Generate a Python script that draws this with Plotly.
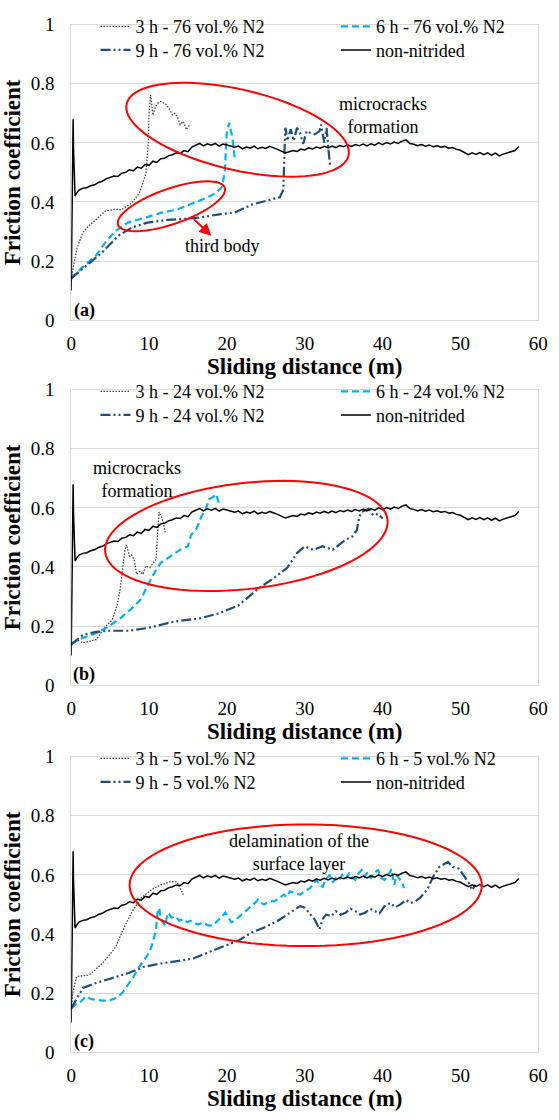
import numpy as np
import plotly.graph_objects as go

W, H = 559, 1120

# ---------------- data ----------------
# non-nitrided reference test (same curve shown in every panel)
nn_x = [0, 0.1, 0.2, 0.25, 0.3, 0.4, 0.5, 0.7,
        1.0, 1.5, 2.0, 2.5, 3.0, 3.5, 4.0, 4.5, 5.0, 5.5, 6.0, 6.5, 7.0, 7.5, 8.0, 8.5, 9.0, 9.5,
        10.0, 10.5, 11.0, 11.5, 12.0, 12.5, 13.0, 13.5, 14.0, 14.5, 15.0, 15.5, 16.0, 16.5, 17.0, 17.5,
        18.0, 18.5, 19.0, 19.5, 20.0, 20.5, 21.0, 21.5, 22.0, 22.5, 23.0, 23.5, 24.0, 24.5, 25.0, 25.5,
        26.0, 26.5, 27.0, 27.5, 28.0, 28.5, 29.0, 29.5, 30.0, 30.5, 31.0, 31.5, 32.0, 32.5, 33.0, 33.5,
        34.0, 34.5, 35.0, 35.5, 36.0, 36.5, 37.0, 37.5, 38.0, 38.5, 39.0, 39.5, 40.0, 40.5, 41.0, 41.5,
        42.0, 42.5, 43.0, 43.5, 44.0, 44.5, 45.0, 45.5, 46.0, 46.5, 47.0, 47.5, 48.0, 48.5, 49.0, 49.5,
        50.0, 50.5, 51.0, 51.5, 52.0, 52.5, 53.0, 53.5, 54.0, 54.5, 55.0, 55.5, 56.0, 56.5, 57.0, 57.5]
nn_y = [0.10, 0.30, 0.60, 0.68, 0.58, 0.46, 0.42, 0.43,
        0.440, 0.446, 0.448, 0.455, 0.458, 0.466, 0.470, 0.478, 0.482, 0.488, 0.486, 0.497, 0.500, 0.509,
        0.506, 0.518, 0.514, 0.527, 0.524, 0.538, 0.534, 0.546, 0.548, 0.556, 0.560, 0.566, 0.564, 0.574,
        0.570, 0.586, 0.592, 0.598, 0.590, 0.597, 0.592, 0.598, 0.589, 0.596, 0.593, 0.588, 0.585, 0.589,
        0.580, 0.586, 0.582, 0.589, 0.580, 0.585, 0.581, 0.588, 0.584, 0.578, 0.572, 0.566, 0.570, 0.574,
        0.571, 0.579, 0.576, 0.583, 0.579, 0.586, 0.582, 0.588, 0.583, 0.589, 0.584, 0.591, 0.587, 0.593,
        0.588, 0.594, 0.590, 0.596, 0.590, 0.597, 0.592, 0.600, 0.594, 0.601, 0.596, 0.603, 0.598, 0.606,
        0.610, 0.598, 0.595, 0.590, 0.594, 0.589, 0.593, 0.587, 0.590, 0.585, 0.588, 0.582, 0.584, 0.578,
        0.575, 0.566, 0.560, 0.566, 0.561, 0.567, 0.560, 0.566, 0.558, 0.565, 0.556, 0.562, 0.566, 0.570,
        0.574, 0.588]

# (a) 76 vol.% N2
a3_x = [0, 0.25, 0.7, 1.5, 2.3, 3.2, 4.4, 5.5, 6.5, 7.75, 8.75, 9.6, 9.9, 10.0, 10.2, 10.5, 10.8,
        11.1, 11.5, 11.7, 12.2, 12.6, 13.0, 13.3, 13.6, 14.0, 14.4, 14.8, 15.25]
a3_y = [0.13, 0.176, 0.24, 0.297, 0.32, 0.342, 0.369, 0.375, 0.374, 0.396, 0.43, 0.496, 0.596, 0.70,
        0.762, 0.694, 0.72, 0.734, 0.74, 0.737, 0.73, 0.715, 0.695, 0.70, 0.69, 0.662, 0.672, 0.645, 0.662]
a6_x = [0, 0.25, 1.5, 3.2, 4.4, 5.7, 7.3, 9.4, 11.5, 13.6, 15.7, 17.3, 18.6, 19.4, 19.75, 19.96,
        20.3, 20.7, 21.0]
a6_y = [0.14, 0.147, 0.18, 0.219, 0.263, 0.302, 0.33, 0.346, 0.363, 0.374, 0.396, 0.413, 0.43, 0.452,
        0.507, 0.629, 0.668, 0.618, 0.551]
a9_x = [0, 0.25, 2.3, 4.0, 6.1, 7.75, 9.8, 12.3, 14.8, 16.5, 19.0, 21.1, 23.2, 25.25, 26.8, 27.25,
        27.3, 27.5, 27.6, 27.75, 28.2, 28.6, 29.0, 29.4, 29.8, 30.25, 30.7, 31.3, 31.9, 32.1, 32.5,
        32.8, 33.1, 33.25]
a9_y = [0.14, 0.147, 0.192, 0.23, 0.286, 0.313, 0.33, 0.339, 0.343, 0.347, 0.358, 0.365, 0.391, 0.405,
        0.416, 0.441, 0.485, 0.651, 0.64, 0.607, 0.646, 0.607, 0.651, 0.634, 0.596, 0.64, 0.634, 0.629,
        0.64, 0.662, 0.601, 0.651, 0.562, 0.524]

# (b) 24 vol.% N2
b3_x = [0, 0.7, 1.5, 3.2, 4.4, 5.25, 5.9, 6.3, 6.6, 6.9, 7.1, 7.5, 7.75, 8.1, 8.4, 8.8, 9.2, 9.6,
        10.1, 10.5, 10.9, 11.1, 11.3, 11.6, 11.8, 12.1]
b3_y = [0.137, 0.154, 0.143, 0.154, 0.198, 0.22, 0.27, 0.326, 0.392, 0.458, 0.475, 0.436, 0.44, 0.425,
        0.375, 0.385, 0.375, 0.403, 0.398, 0.41, 0.425, 0.514, 0.586, 0.57, 0.554, 0.514]
b6_x = [0, 1.5, 3.2, 4.8, 6.5, 7.75, 9.0, 9.8, 10.7, 11.5, 12.75, 14.0, 15.0, 15.4, 16.1, 16.7, 17.3,
        17.75, 18.2, 18.6, 19.0, 19.3]
b6_y = [0.14, 0.16, 0.176, 0.198, 0.23, 0.259, 0.292, 0.337, 0.381, 0.414, 0.436, 0.458, 0.47, 0.508,
        0.53, 0.569, 0.597, 0.63, 0.636, 0.647, 0.614, 0.61]
b9_x = [0, 1.5, 3.2, 4.8, 7.3, 9.8, 13.2, 16.5, 19.0, 21.5, 24.0, 26.1, 27.75, 29.0, 30.0, 31.1, 32.3,
        33.6, 34.4, 35.25, 36.1, 36.7, 37.0, 37.3, 38.2, 38.8, 39.4, 40.0]
b9_y = [0.137, 0.17, 0.18, 0.184, 0.184, 0.193, 0.215, 0.226, 0.243, 0.27, 0.326, 0.364, 0.397, 0.447,
        0.47, 0.458, 0.47, 0.458, 0.475, 0.492, 0.503, 0.525, 0.569, 0.586, 0.597, 0.575, 0.58, 0.564]

# (c) 5 vol.% N2
c3_x = [0, 0.25, 0.7, 2.3, 4.0, 5.7, 6.9, 7.75, 9.0, 10.25, 11.5, 12.75, 13.6, 14.0, 14.4]
c3_y = [0.15, 0.206, 0.256, 0.261, 0.3, 0.355, 0.427, 0.472, 0.522, 0.549, 0.566, 0.577, 0.576, 0.555,
        0.533]
c6_x = [0, 0.5, 1.1, 1.9, 2.5, 3.2, 4.0, 4.8, 5.5, 6.1, 6.7, 7.3, 8.0, 8.6, 9.2, 9.8, 10.2, 10.5, 10.9,
        11.1, 11.3, 11.5, 11.75, 12.1, 12.3, 12.5, 12.9, 13.4, 13.9, 14.4, 14.9, 15.3, 15.7, 16.3, 16.9,
        17.5, 18.2, 18.6, 19.0, 19.4, 19.8, 20.2, 20.6, 21.2, 21.9, 22.5, 23.2, 23.6, 24.0, 24.4, 24.8,
        25.4, 26.1, 26.7, 27.3, 27.7, 28.1, 28.7, 29.4, 30.0, 30.7, 31.1, 31.5, 31.9, 32.3, 32.7, 33.2,
        33.6, 34.0, 34.4, 34.8, 35.2, 35.7, 36.1, 36.5, 36.9, 37.3, 37.7, 38.1, 38.5, 38.9, 39.4, 39.8,
        40.25, 40.6, 41.0, 41.1, 41.5, 41.8, 42.1, 42.5, 42.75]
c6_y = [0.148, 0.16, 0.167, 0.189, 0.18, 0.178, 0.174, 0.175, 0.18, 0.189, 0.205, 0.228, 0.255, 0.283,
        0.305, 0.328, 0.35, 0.372, 0.416, 0.472, 0.488, 0.45, 0.44, 0.428, 0.46, 0.472, 0.455, 0.46,
        0.445, 0.45, 0.44, 0.445, 0.439, 0.432, 0.439, 0.43, 0.428, 0.44, 0.45, 0.46, 0.472, 0.455, 0.439,
        0.45, 0.466, 0.478, 0.494, 0.505, 0.516, 0.505, 0.5, 0.51, 0.511, 0.52, 0.533, 0.525, 0.544, 0.538,
        0.533, 0.545, 0.555, 0.57, 0.583, 0.565, 0.56, 0.585, 0.599, 0.575, 0.59, 0.583, 0.6, 0.585, 0.605,
        0.59, 0.583, 0.605, 0.616, 0.595, 0.61, 0.588, 0.605, 0.616, 0.59, 0.583, 0.6, 0.61, 0.62, 0.566,
        0.6, 0.588, 0.577, 0.555]
c9_x = [0, 1.5, 3.2, 5.25, 7.3, 9.4, 11.5, 13.6, 15.7, 17.75, 19.8, 21.5, 23.2, 24.8, 26.5, 28.2, 29.4,
        30.0, 30.7, 31.25, 31.9, 32.3, 32.75, 33.4, 34.0, 34.6, 35.25, 35.9, 36.5, 37.1, 37.75, 38.4,
        39.0, 39.6, 40.25, 41.0, 41.6, 42.3, 43.0, 43.6, 44.2, 44.8, 45.7, 46.5, 47.3, 48.4, 49.0, 49.8,
        50.4, 51.1, 51.5, 51.9]
c9_y = [0.148, 0.217, 0.234, 0.25, 0.267, 0.289, 0.3, 0.308, 0.317, 0.339, 0.361, 0.378, 0.405, 0.422,
        0.444, 0.472, 0.494, 0.489, 0.466, 0.45, 0.416, 0.45, 0.466, 0.46, 0.477, 0.465, 0.472, 0.485,
        0.477, 0.466, 0.472, 0.485, 0.477, 0.47, 0.494, 0.505, 0.49, 0.5, 0.515, 0.505, 0.51, 0.522,
        0.549, 0.594, 0.627, 0.644, 0.627, 0.621, 0.599, 0.571, 0.549, 0.566]

panels = [
    ("76", (a3_x, a3_y), (a6_x, a6_y), (a9_x, a9_y)),
    ("24", (b3_x, b3_y), (b6_x, b6_y), (b9_x, b9_y)),
    ("5", (c3_x, c3_y), (c6_x, c6_y), (c9_x, c9_y)),
]

# ---------------- styling / layout ----------------
SERIF = "Liberation Serif"
PX_L, PX_R = 68, 548
PANEL_PX = [(15, 316), (387, 688), (761, 1062)]  # top, bottom pixel rows of each plot area
LEG_COLS = (93, 340)      # legend entry left edges (px)
LEG_ROWS = (2, 26)        # legend anchor offsets below the plot top (px)

def px(x):
    return x / W

def py(y):
    return 1 - y / H

styles = {
    "3": dict(color="#404040", width=1.3, dash="1.5px,1.5px"),
    "6": dict(color="#00B0F0", width=2.2, dash="7px,4px"),
    "9": dict(color="#1F4E79", width=2.2, dash="10px,3px,2px,3px,2px,3px"),
    "nn": dict(color="#000000", width=1.5),
}

fig = go.Figure()
layout_updates = {}
leg_n = 0
for i, (pct, s3, s6, s9) in enumerate(panels):
    k = "" if i == 0 else str(i + 1)
    xa, ya = "x" + k, "y" + k
    top, bot = PANEL_PX[i]
    entries = [
        (s3[0], s3[1], f"3 h - {pct} vol.% N2", styles["3"], 0, 0),
        (s6[0], s6[1], f"6 h - {pct} vol.% N2", styles["6"], 1, 0),
        (s9[0], s9[1], f"9 h - {pct} vol.% N2", styles["9"], 0, 1),
        (nn_x, nn_y, "non-nitrided", styles["nn"], 1, 1),
    ]
    for xs, ys, name, st, col, row in entries:
        leg_n += 1
        lg = "legend" if leg_n == 1 else f"legend{leg_n}"
        fig.add_trace(go.Scatter(x=xs, y=ys, mode="lines", name=name, line=st,
                                 xaxis=xa, yaxis=ya, legend=lg))
        layout_updates[lg] = dict(
            x=px(LEG_COLS[col]), y=py(top + LEG_ROWS[row]), xanchor="left", yanchor="middle",
            orientation="v", bgcolor="rgba(0,0,0,0)", itemwidth=30,
            font=dict(family=SERIF, size=18, color="#000"))

    layout_updates["xaxis" + k] = dict(
        domain=[px(PX_L), px(PX_R)], anchor=ya, range=[0, 60], dtick=10, tick0=0,
        showgrid=False, zeroline=False, showline=True, linecolor="#d9d9d9", linewidth=1, mirror=True,
        ticks="", ticklabelstandoff=6, tickfont=dict(family=SERIF, size=19, color="#000"),
        title=dict(text="<b>Sliding distance (m)</b>", font=dict(family=SERIF, size=23, color="#000"),
                   standoff=0),
    )
    layout_updates["yaxis" + k] = dict(
        domain=[py(bot), py(top)], anchor=xa, range=[0, 1], dtick=0.2, tick0=0,
        showgrid=True, gridcolor="#d9d9d9", gridwidth=1, zeroline=False,
        showline=True, linecolor="#d9d9d9", linewidth=1, mirror=True,
        ticks="", ticklabelstandoff=12, tickfont=dict(family=SERIF, size=19, color="#000"),
        title=dict(text="<b>Friction coefficient</b>", font=dict(family=SERIF, size=23, color="#000"),
                   standoff=3),
    )

fig.update_layout(**layout_updates)

# ---------------- annotations ----------------
def ellipse_path(cx, cy, a, b, ang_deg, n=90):
    t = np.linspace(0, 2 * np.pi, n + 1)
    th = np.radians(ang_deg)
    X = cx + a * np.cos(t) * np.cos(th) - b * np.sin(t) * np.sin(th)
    Y = cy + a * np.cos(t) * np.sin(th) + b * np.sin(t) * np.cos(th)
    pts = [f"{px(x):.5f},{py(y):.5f}" for x, y in zip(X, Y)]
    return "M" + " L".join(pts) + " Z"

for (cx, cy, a, b, ang) in [(239, 122, 117, 41, 13), (171, 200, 58, 18, -19),
                            (248, 536, 146, 54, -6.5), (309, 892, 181, 62, 0)]:
    fig.add_shape(type="path", path=ellipse_path(cx, cy, a, b, ang), xref="paper", yref="paper",
                  line=dict(color="#FF0000", width=2), fillcolor="rgba(0,0,0,0)")

txt_font = dict(family=SERIF, size=18, color="#000")
texts = [
    ("microcracks<br>formation", 388, 108),
    ("third body", 223, 241),
    ("microcracks<br>formation", 136, 478),
    ("delamination of the<br>surface layer", 302, 859),
]
for t, x, y in texts:
    fig.add_annotation(text=t, x=px(x), y=py(y), xref="paper", yref="paper", showarrow=False,
                       xanchor="center", yanchor="middle", font=txt_font, align="center")

fig.add_annotation(x=px(212), y=py(230), ax=-19, ay=-18, xref="paper", yref="paper", text="",
                   showarrow=True, arrowhead=2, arrowsize=1.2, arrowwidth=2, arrowcolor="#FF0000")

for lab, x, y in [("(a)", 82, 306), ("(b)", 81, 677), ("(c)", 81, 1051)]:
    fig.add_annotation(text=f"<b>{lab}</b>", x=px(x), y=py(y), xref="paper", yref="paper",
                       xanchor="center", yanchor="middle", showarrow=False,
                       font=dict(family=SERIF, size=18, color="#000"))

fig.update_layout(width=W, height=H, margin=dict(l=0, r=0, t=0, b=0),
                  paper_bgcolor="white", plot_bgcolor="white", showlegend=True)

fig.write_html("out.html", config={"displayModeBar": False},
               post_script="document.body.style.margin='0';")
